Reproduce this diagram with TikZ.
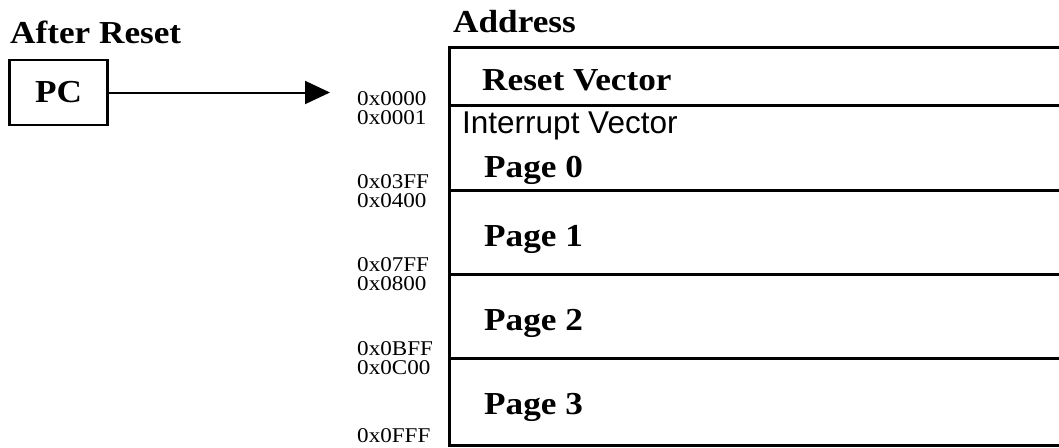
\documentclass[tikz,border=0pt]{standalone}
\usepackage{fontspec}
\setmainfont{Liberation Serif}
\newfontfamily\arialfont{Liberation Sans}
\usetikzlibrary{arrows.meta}
\newcommand{\wide}[1]{\scalebox{1.1}[1]{#1}}
\newcommand{\wideaddr}[1]{\scalebox{1.1}[1]{#1}}
\tikzset{
  lbl/.style={inner sep=0pt, anchor=base west, font=\fontsize{32}{32}\selectfont\bfseries},
  sanslbl/.style={inner sep=0pt, anchor=base west, font=\fontsize{31.5}{31.5}\selectfont\arialfont},
  addr/.style={inner sep=0pt, anchor=base west, font=\fontsize{21}{21}\selectfont},
  memline/.style={line width=3pt},
  pcbox/.style={draw, line width=2.5pt, minimum width=98pt, minimum height=65pt, inner sep=0pt,
                font=\fontsize{32}{32}\selectfont\bfseries},
  ptr/.style={line width=2pt, -{Triangle[length=25pt,width=23pt]}},
}
\begin{document}
\begin{tikzpicture}[x=1pt,y=-1pt]
\useasboundingbox (0,0) rectangle (1059,447);
\fill[white] (0,0) rectangle (1059,447);

% left part
\node[lbl] (after) at (10,43) {\wide{After Reset}};
\node[pcbox] (pc) at (58.5,92.5) {\wide{PC}};
\coordinate (target) at (330,92.5);
\draw[ptr] (pc.east) -- (target);

% memory map
\node[lbl] (address) at (453,32) {\wide{Address}};
\draw[memline] (1059,47.5) -- (449.5,47.5) -- (449.5,445) -- (1059,445);
\draw[memline] (449.5,105.5) -- (1059,105.5);
\draw[memline] (449.5,190) -- (1059,190);
\draw[memline] (449.5,274) -- (1059,274);
\draw[memline] (449.5,358.5) -- (1059,358.5);

\node[lbl] (reset) at (482,90) {\wide{Reset Vector}};
\node[sanslbl] (intr) at (462,133) {Interrupt Vector};
\node[lbl] (page0) at (484,177) {\wide{Page 0}};
\node[lbl] (page1) at (484,246) {\wide{Page 1}};
\node[lbl] (page2) at (484,330) {\wide{Page 2}};
\node[lbl] (page3) at (484,414) {\wide{Page 3}};

% addresses
\node[addr] (a0000) at (357,105) {\wideaddr{0x0000}};
\node[addr] (a0001) at (357,124) {\wideaddr{0x0001}};
\node[addr] (a03ff) at (357,188) {\wideaddr{0x03FF}};
\node[addr] (a0400) at (357,207) {\wideaddr{0x0400}};
\node[addr] (a07ff) at (357,271) {\wideaddr{0x07FF}};
\node[addr] (a0800) at (357,290) {\wideaddr{0x0800}};
\node[addr] (a0bff) at (357,355) {\wideaddr{0x0BFF}};
\node[addr] (a0c00) at (357,374) {\wideaddr{0x0C00}};
\node[addr] (a0fff) at (357,442) {\wideaddr{0x0FFF}};
\end{tikzpicture}
\end{document}
